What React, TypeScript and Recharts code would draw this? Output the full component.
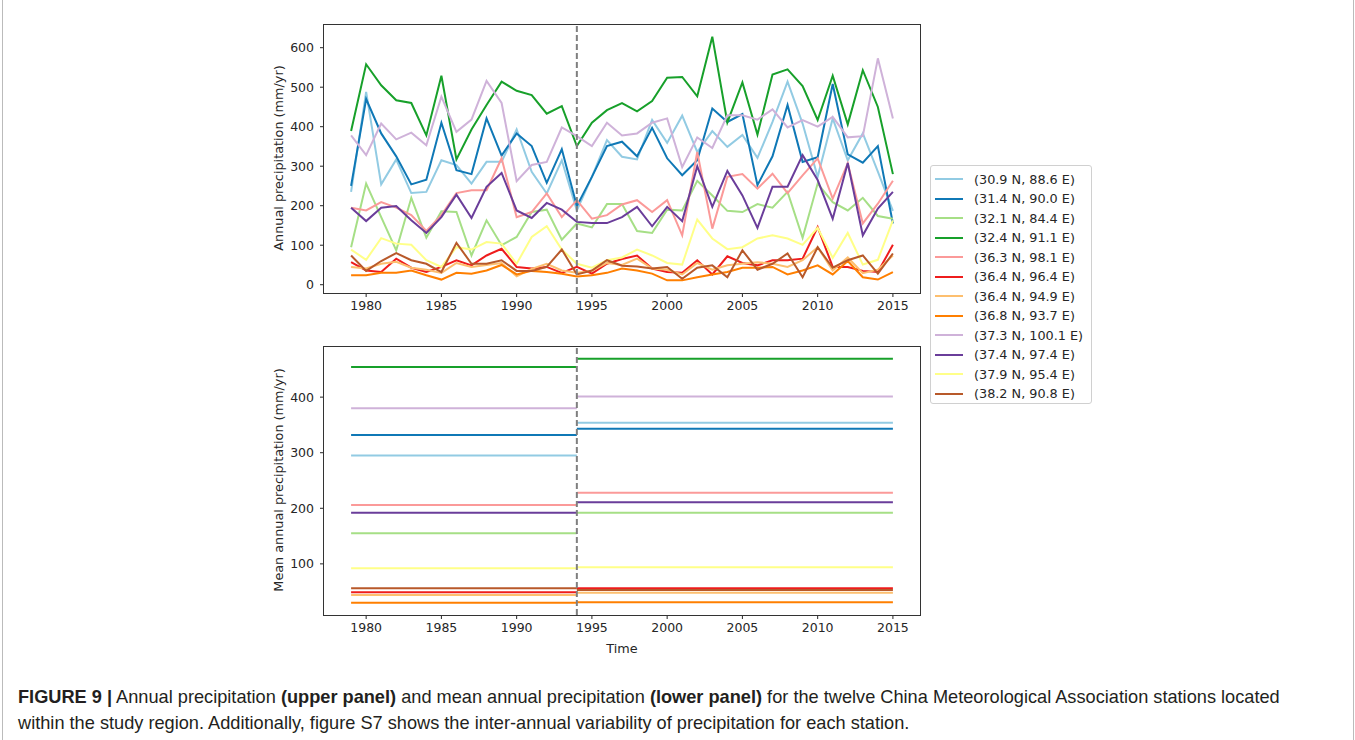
import React from 'react';
import { LineChart, Line, XAxis, YAxis, ReferenceLine } from 'recharts';

const YEARS = [1979, 1980, 1981, 1982, 1983, 1984, 1985, 1986, 1987, 1988, 1989, 1990, 1991, 1992, 1993, 1994, 1995, 1996, 1997,
  1998, 1999, 2000, 2001, 2002, 2003, 2004, 2005, 2006, 2007, 2008, 2009, 2010, 2011, 2012, 2013, 2014, 2015];
const BREAK_YEAR = 1994;
const X_TICKS = [1980, 1985, 1990, 1995, 2000, 2005, 2010, 2015];
const TOP_TICKS = [0, 100, 200, 300, 400, 500, 600];
const BOTTOM_TICKS = [100, 200, 300, 400];

const STATIONS = [
  '(30.9 N, 88.6 E)', '(31.4 N, 90.0 E)', '(32.1 N, 84.4 E)', '(32.4 N, 91.1 E)',
  '(36.3 N, 98.1 E)', '(36.4 N, 96.4 E)', '(36.4 N, 94.9 E)', '(36.8 N, 93.7 E)',
  '(37.3 N, 100.1 E)', '(37.4 N, 97.4 E)', '(37.9 N, 95.4 E)', '(38.2 N, 90.8 E)',
];
const COLORS = ['#92cbe3', '#0f78b6', '#a6df86', '#17a02a', '#fb9a99', '#ee1c1c',
  '#fdbf6f', '#ff7f00', '#cfb2d9', '#6a3d9a', '#ffff88', '#b8592a'];

// annual precipitation, mm/yr, 1979-2015
const P_309_886 = [235, 488, 254, 317, 232, 235, 315, 303, 256, 311, 311, 393, 286, 231, 315, 188, 273, 366, 324, 317, 417, 359, 428, 336, 389, 349, 379, 321, 412, 514, 408, 273, 421, 315, 383, 286, 187];
const P_314_900 = [250, 470, 383, 325, 254, 266, 410, 290, 280, 421, 327, 383, 351, 258, 343, 199, 273, 351, 362, 325, 397, 320, 277, 315, 446, 412, 432, 252, 325, 455, 311, 323, 508, 330, 309, 351, 155];
const P_321_844 = [95, 256, 171, 87, 220, 119, 186, 184, 74, 163, 100, 121, 184, 190, 114, 155, 145, 204, 204, 136, 131, 190, 188, 263, 226, 187, 184, 204, 195, 235, 119, 256, 209, 188, 220, 174, 167];
const P_324_911 = [389, 558, 505, 467, 460, 378, 529, 317, 393, 455, 514, 491, 480, 433, 452, 351, 410, 442, 460, 439, 465, 524, 526, 477, 628, 411, 512, 380, 532, 545, 503, 417, 529, 406, 543, 450, 280];
const P_363_981 = [195, 188, 209, 195, 176, 136, 176, 232, 239, 239, 320, 171, 184, 231, 171, 214, 167, 176, 203, 214, 184, 214, 125, 336, 142, 273, 280, 243, 281, 232, 277, 320, 218, 307, 155, 205, 263];
const P_364_964 = [57, 36, 32, 66, 43, 32, 45, 62, 49, 74, 91, 45, 41, 45, 30, 45, 28, 53, 65, 74, 41, 32, 30, 62, 26, 72, 55, 49, 62, 62, 66, 146, 45, 45, 35, 32, 101];
const P_364_949 = [45, 41, 53, 58, 43, 38, 30, 55, 45, 50, 55, 21, 40, 53, 36, 30, 35, 55, 50, 66, 41, 38, 26, 55, 38, 49, 53, 57, 53, 45, 62, 95, 36, 69, 29, 38, 74];
const P_368_937 = [24, 24, 30, 30, 36, 24, 13, 30, 28, 36, 50, 26, 35, 32, 28, 21, 24, 30, 41, 36, 28, 11, 11, 19, 26, 32, 43, 43, 45, 26, 36, 49, 26, 60, 19, 13, 32];
const P_373_1001 = [378, 328, 408, 368, 385, 353, 476, 387, 418, 516, 460, 262, 303, 311, 398, 376, 351, 410, 378, 383, 410, 421, 298, 373, 346, 429, 429, 418, 444, 398, 417, 400, 425, 373, 376, 573, 421];
const P_374_974 = [195, 161, 195, 199, 163, 131, 171, 228, 169, 248, 283, 188, 169, 207, 190, 159, 156, 156, 171, 197, 148, 197, 161, 300, 197, 288, 226, 144, 248, 248, 328, 265, 167, 308, 125, 193, 235];
const P_379_954 = [89, 63, 118, 104, 101, 62, 45, 95, 89, 108, 104, 53, 121, 148, 89, 53, 43, 62, 69, 89, 74, 55, 51, 165, 117, 90, 95, 117, 125, 117, 101, 144, 68, 131, 51, 63, 163];
const P_382_908 = [74, 35, 60, 80, 62, 53, 32, 106, 53, 53, 62, 35, 35, 45, 89, 26, 36, 62, 48, 46, 41, 45, 15, 43, 49, 19, 87, 38, 53, 79, 19, 95, 43, 62, 74, 28, 79];

const SERIES = [P_309_886, P_314_900, P_321_844, P_324_911, P_363_981, P_364_964,
  P_364_949, P_368_937, P_373_1001, P_374_974, P_379_954, P_382_908];

// mean annual precipitation before / after the break year
const MEAN_BEFORE = [295, 332, 155, 454, 206, 49, 44, 30, 380, 192, 92, 56];
const MEAN_AFTER = [354, 343, 192, 469, 228, 56, 48, 31, 401, 211, 94, 53];

const FONT = '"DejaVu Sans", sans-serif';
const INK = '#262626';

const annualRows = YEARS.map((year, i) => {
  const row: Record<string, number> = { year };
  SERIES.forEach((s, k) => { row['s' + k] = s[i]; });
  return row;
});

const tickStyle = { fill: INK, fontSize: 12.5, fontFamily: FONT };

function Frame({ top }: { top: number }) {
  return (
    <div style={{
      position: 'absolute', left: 323, top: top, width: 598, height: 270,
      border: '1px solid #333', boxSizing: 'border-box', pointerEvents: 'none',
    }} />
  );
}

function VLabel({ text, x, y }: { text: string; x: number; y: number }) {
  return (
    <div style={{
      position: 'absolute', left: x, top: y, transform: 'translate(-50%, -50%) rotate(-90deg)',
      whiteSpace: 'nowrap', fontFamily: FONT, fontSize: 12.8, color: INK,
    }}>{text}</div>
  );
}

export default function App() {
  return (
    <div style={{ position: 'absolute', left: 0, top: 0, width: 1355, height: 740, background: '#fff', overflow: 'hidden' }}>
      <div style={{ position: 'absolute', left: 2, top: 0, width: 1350, height: 740, borderLeft: '1px solid #bbb', borderRight: '1px solid #bbb' }} />

      {/* upper panel */}
      <div style={{ position: 'absolute', left: 260, top: 14 }}>
        <LineChart width={680} height={310} data={annualRows} margin={{ top: 10, right: 20, left: 0, bottom: 0 }}>
          <XAxis dataKey="year" type="number" domain={[1977.2, 2016.8]} ticks={X_TICKS} allowDataOverflow
            axisLine={false} tickLine={{ stroke: INK }} tickSize={4} tickMargin={4} height={31} tick={tickStyle} />
          <YAxis type="number" domain={[-21, 660]} ticks={TOP_TICKS} allowDataOverflow
            axisLine={false} tickLine={{ stroke: INK }} tickSize={4} tickMargin={6} width={64} tick={tickStyle} />
          {SERIES.map((_, k) => (
            <Line key={k} dataKey={'s' + k} stroke={COLORS[k]} strokeWidth={2} dot={false} activeDot={false}
              isAnimationActive={false} />
          ))}
          <ReferenceLine x={BREAK_YEAR} stroke="#7f7f7f" strokeWidth={2} strokeDasharray="6 3" />
        </LineChart>
      </div>
      <Frame top={24} />
      <VLabel text="Annual precipitation (mm/yr)" x={278} y={158} />

      {/* lower panel */}
      <div style={{ position: 'absolute', left: 260, top: 336 }}>
        <LineChart width={680} height={330} margin={{ top: 10, right: 20, left: 0, bottom: 0 }}>
          <XAxis dataKey="year" type="number" domain={[1977.2, 2016.8]} ticks={X_TICKS} allowDataOverflow
            axisLine={false} tickLine={{ stroke: INK }} tickSize={4} tickMargin={4} height={51} tick={tickStyle} />
          <YAxis type="number" domain={[8, 492]} ticks={BOTTOM_TICKS} allowDataOverflow
            axisLine={false} tickLine={{ stroke: INK }} tickSize={4} tickMargin={6} width={64} tick={tickStyle} />
          {MEAN_BEFORE.map((m, k) => (
            <Line key={'b' + k} data={[{ year: YEARS[0], v: m }, { year: BREAK_YEAR, v: m }]} dataKey="v"
              stroke={COLORS[k]} strokeWidth={2} dot={false} activeDot={false} isAnimationActive={false} />
          ))}
          {MEAN_AFTER.map((m, k) => (
            <Line key={'a' + k} data={[{ year: BREAK_YEAR, v: m }, { year: YEARS[YEARS.length - 1], v: m }]} dataKey="v"
              stroke={COLORS[k]} strokeWidth={2} dot={false} activeDot={false} isAnimationActive={false} />
          ))}
          <ReferenceLine x={BREAK_YEAR} stroke="#7f7f7f" strokeWidth={2} strokeDasharray="6 3" />
        </LineChart>
      </div>
      <Frame top={346} />
      <VLabel text="Mean annual precipitation (mm/yr)" x={278} y={480} />
      <div style={{ position: 'absolute', left: 622, top: 648, transform: 'translate(-50%, -50%)', fontFamily: FONT, fontSize: 12.8, color: INK }}>Time</div>

      {/* legend */}
      <div style={{
        position: 'absolute', left: 930, top: 165, width: 162, height: 239, boxSizing: 'border-box',
        border: '1px solid #d0d0d0', borderRadius: 3, background: '#fff',
      }}>
        {STATIONS.map((name, k) => (
          <div key={k} style={{ position: 'absolute', left: 4, top: 5 + k * 19.5, height: 16, display: 'flex', alignItems: 'center' }}>
            <div style={{ width: 28, height: 2, background: COLORS[k] }} />
            <span style={{ marginLeft: 11, fontFamily: FONT, fontSize: 12.8, color: INK, whiteSpace: 'nowrap' }}>{name}</span>
          </div>
        ))}
      </div>

      {/* caption */}
      <div style={{
        position: 'absolute', left: 18, top: 684, fontFamily: '"Liberation Sans", Arial, sans-serif',
        fontSize: 18.2, lineHeight: '26px', color: '#231f20', whiteSpace: 'nowrap',
      }}>
        <b>FIGURE 9 |</b> Annual precipitation <b>(upper panel)</b> and mean annual precipitation <b>(lower panel)</b> for the twelve China Meteorological Association stations located
        <br />
        within the study region. Additionally, figure S7 shows the inter-annual variability of precipitation for each station.
      </div>
    </div>
  );
}
